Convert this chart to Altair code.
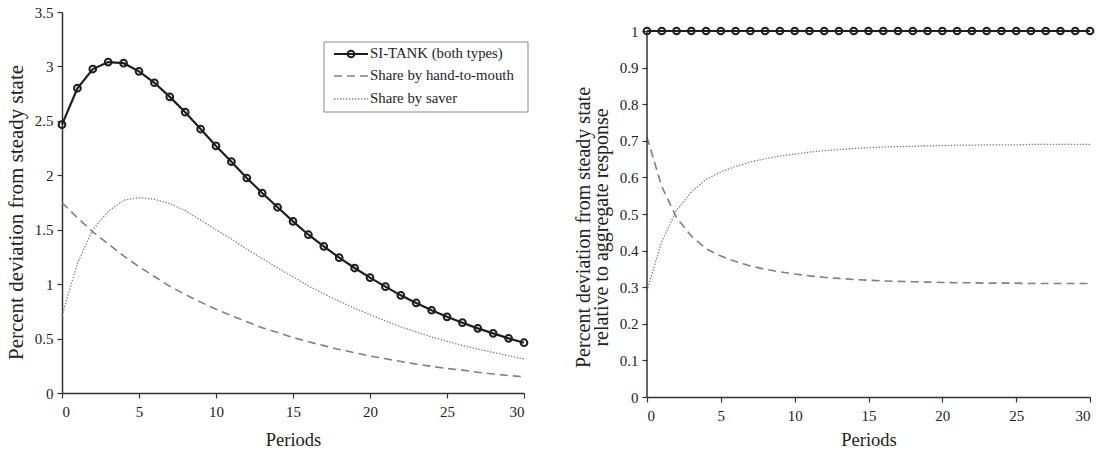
import altair as alt
import pandas as pd

periods = list(range(31))

# Left panel: percent deviation from steady state
si_tank = [2.465, 2.80, 2.976, 3.04, 3.03, 2.955, 2.85, 2.72, 2.58, 2.425,
           2.27, 2.125, 1.975, 1.837, 1.706, 1.577, 1.454, 1.347, 1.243, 1.148,
           1.06, 0.977, 0.897, 0.827, 0.76, 0.70, 0.646, 0.594, 0.548, 0.502, 0.462]
htm = [1.75, 1.61, 1.48, 1.37, 1.26, 1.16, 1.07, 0.98, 0.905, 0.835,
       0.77, 0.71, 0.655, 0.60, 0.555, 0.51, 0.47, 0.435, 0.40, 0.37,
       0.34, 0.315, 0.29, 0.265, 0.245, 0.225, 0.21, 0.19, 0.175, 0.16, 0.15]
saver = [0.71, 1.19, 1.50, 1.67, 1.77, 1.795, 1.78, 1.74, 1.675, 1.59,
         1.50, 1.415, 1.32, 1.237, 1.15, 1.067, 0.984, 0.912, 0.843, 0.778,
         0.72, 0.662, 0.607, 0.562, 0.515, 0.475, 0.436, 0.404, 0.373, 0.342, 0.312]

# Right panel: relative to aggregate response
share_total = [1.0, 1.0, 1.0, 1.0, 1.0, 1.0, 1.0, 1.0, 1.0, 1.0,
               1.0, 1.0, 1.0, 1.0, 1.0, 1.0, 1.0, 1.0, 1.0, 1.0,
               1.0, 1.0, 1.0, 1.0, 1.0, 1.0, 1.0, 1.0, 1.0, 1.0, 1.0]
share_htm = [0.71, 0.575, 0.49, 0.44, 0.405, 0.385, 0.37, 0.358, 0.349, 0.342,
             0.336, 0.331, 0.327, 0.324, 0.321, 0.319, 0.317, 0.316, 0.315, 0.314,
             0.313, 0.312, 0.312, 0.311, 0.311, 0.311, 0.31, 0.31, 0.31, 0.31, 0.31]
share_saver = [0.29, 0.425, 0.51, 0.56, 0.595, 0.615, 0.63, 0.642, 0.651, 0.658,
               0.664, 0.669, 0.673, 0.676, 0.679, 0.681, 0.683, 0.684, 0.685, 0.686,
               0.687, 0.688, 0.688, 0.689, 0.689, 0.689, 0.69, 0.69, 0.69, 0.69, 0.69]

series_names = ["SI-TANK (both types)", "Share by hand-to-mouth", "Share by saver"]
x_ticks = [0, 5, 10, 15, 20, 25, 30]
left_y_ticks = [0, 0.5, 1, 1.5, 2, 2.5, 3, 3.5]
right_y_ticks = [0, 0.1, 0.2, 0.3, 0.4, 0.5, 0.6, 0.7, 0.8, 0.9, 1]
right_axis_span = [0, 1]

FONT = "Liberation Serif"
DARK = "#1e1e1e"
AXIS = "#333333"
GRAY = "#808080"
DASH = [8, 5]
DOT = [1.4, 1.6]
MSIZE = 45


def panel(total, h2m, sav, yticks, ydomain, ytitle, ytitle_size, ytitle_y,
          show_domain, x_title_pad):
    df = pd.DataFrame({"t": periods, "total": total, "htm": h2m, "saver": sav})
    base = alt.Chart(df)
    xs = alt.Scale(domain=[0, 30], nice=False)
    ys = alt.Scale(domain=ydomain, nice=False)
    x_axis = alt.Axis(values=x_ticks, title="Periods", labelPadding=6,
                      titlePadding=x_title_pad, titleFontSize=18.5)
    y_axis = alt.Axis(values=yticks, format=".1~f", title=ytitle, domain=show_domain,
                      titleFontSize=ytitle_size, titlePadding=8, titleY=ytitle_y,
                      titleLineHeight=18, labelOverlap=False)
    x = alt.X("t:Q", scale=xs, axis=x_axis)

    def y(f):
        return alt.Y(f + ":Q", scale=ys, axis=y_axis)

    l_htm = base.mark_line(color=GRAY, strokeDash=DASH, strokeWidth=1.6).encode(x=x, y=y("htm"))
    l_sav = base.mark_line(color=GRAY, strokeDash=DOT, strokeWidth=1.3).encode(x=x, y=y("saver"))
    l_tot = base.mark_line(color=DARK, strokeWidth=2.2).encode(x=x, y=y("total"))
    p_tot = base.mark_point(shape="circle", filled=False, color=DARK,
                            strokeWidth=2, size=MSIZE, opacity=1).encode(x=x, y=y("total"))
    return [l_htm, l_sav, l_tot, p_tot], x_axis, y_axis, xs, ys


left_layers, *_ = panel(si_tank, htm, saver, left_y_ticks, [0, 3.5],
                        "Percent deviation from steady state", 21, 200, True, 11)

# manual legend (inside left plot area)
leg_df = pd.DataFrame({"label": series_names})
one = pd.DataFrame({"k": [0]})
lx0, lx1, ltx = 272, 306, 308
rows = [42, 64, 87]
legend_layers = [
    alt.Chart(one).mark_rect(fill="white", stroke="#8a8a8a", strokeWidth=1).encode(
        x=alt.value(262), x2=alt.value(466), y=alt.value(30), y2=alt.value(100)),
    alt.Chart(one).mark_rule(color=DARK, strokeWidth=2.2).encode(
        x=alt.value(lx0), x2=alt.value(lx1), y=alt.value(rows[0])),
    alt.Chart(one).mark_point(shape="circle", filled=False, color=DARK,
                              strokeWidth=2, size=MSIZE, opacity=1).encode(
        x=alt.value((lx0 + lx1) / 2), y=alt.value(rows[0])),
    alt.Chart(one).mark_rule(color=GRAY, strokeWidth=1.6, strokeDash=DASH).encode(
        x=alt.value(lx0), x2=alt.value(lx1), y=alt.value(rows[1])),
    alt.Chart(one).mark_rule(color=GRAY, strokeWidth=1.3, strokeDash=DOT).encode(
        x=alt.value(lx0), x2=alt.value(lx1), y=alt.value(rows[2])),
]
for i, name in enumerate(series_names):
    legend_layers.append(
        alt.Chart(leg_df).transform_filter(alt.datum.label == name).mark_text(
            align="left", baseline="middle", font=FONT, fontSize=14.8, color="#1e1e1e"
        ).encode(x=alt.value(ltx), y=alt.value(rows[i]), text="label:N"))

left = alt.layer(*left_layers, *legend_layers).properties(width=462, height=381)

# Right panel: plot area taller than the [0,1] range so its top line sits lower
right_layers, rxa, rya, rxs, rys = panel(
    share_total, share_htm, share_saver, right_y_ticks, [0, 385 / 366],
    ["Percent deviation from steady state", "relative to aggregate response"],
    20, 215, False, 7)
span_df = pd.DataFrame({"x": [0], "y0": [right_axis_span[0]], "y1": [right_axis_span[1]]})
axis_line = alt.Chart(span_df).mark_rule(color=AXIS, strokeWidth=1.5).encode(
    x=alt.X("x:Q", scale=rxs, axis=rxa), y=alt.Y("y0:Q", scale=rys, axis=rya), y2="y1:Q")
right = alt.layer(*right_layers, axis_line).properties(width=443, height=385)

chart = alt.hconcat(left, right, spacing=41).properties(
    padding={"left": 5, "top": 5, "right": 5, "bottom": 5}
).configure_view(stroke=None).configure_axis(
    labelFont=FONT, titleFont=FONT, labelFontSize=15, titleFontSize=17,
    titleFontWeight="normal", labelColor="#222", titleColor="#222",
    domainColor=AXIS, tickColor=AXIS, domainWidth=1.5, tickWidth=1.2,
    tickSize=5, grid=False, labelPadding=4, titlePadding=8
)

chart.save("out.html", embed_options={"renderer": "svg", "actions": False})
